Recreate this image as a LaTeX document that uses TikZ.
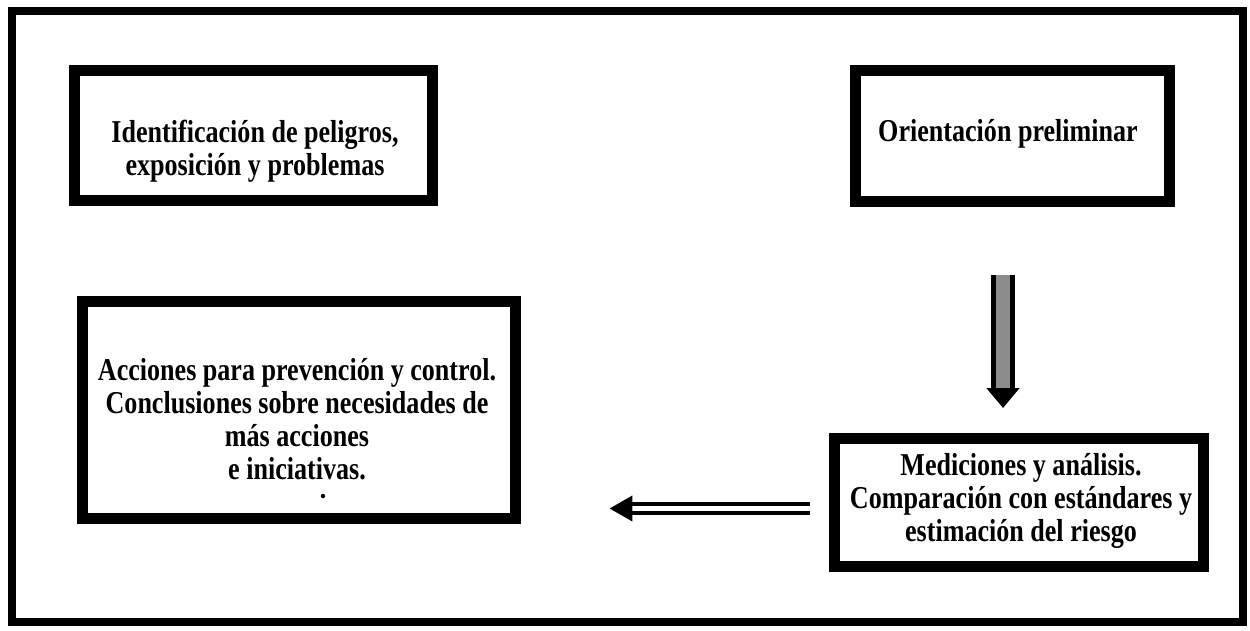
\documentclass[tikz,border=0pt]{standalone}
\usepackage{fontspec}
\setmainfont{Liberation Serif}[FakeStretch=0.82]
\usetikzlibrary{arrows.meta,positioning}

\begin{document}
\begin{tikzpicture}[x=0.02cm,y=-0.02cm]
	  \tikzstyle{caja}=[rectangle,draw=black,line width=0.22cm,fill=white,inner sep=0pt]
	  \tikzstyle{texto}=[align=center,inner sep=0pt,font=\bfseries\fontsize{18.1}{18.7}\selectfont]
	  \tikzstyle{flecha}=[draw=black,double=black!45,line width=0.1cm,double distance=0.28cm,
				  -{Triangle[length=0.4cm,width=0.64cm]}]
	  \tikzstyle{flecha2}=[draw=black,double=white,line width=0.08cm,double distance=0.1cm,
				  -{Triangle[length=0.46cm,width=0.5cm]}]

		\useasboundingbox (0,0) rectangle (1250,630);
		\draw[line width=0.16cm] (12,11) rectangle (1243,622);

		\node[caja,minimum width=7.18cm,minimum height=2.62cm] (ident) at (253.5,135.5) {};
		\node[texto] (identtxt) at (255,151) {Identificación de peligros,\\exposición y problemas};

		\node[caja,minimum width=6.3cm,minimum height=2.64cm] (orient) at (1012.5,136) {};
		\node[texto] (orienttxt) at (1008,134) {Orientación preliminar};

		\node[caja,minimum width=8.68cm,minimum height=4.34cm] (acc) at (299,410) {};
		\node[texto] (acctxt) at (297,419)
			{Acciones para prevención y control.\\Conclusiones sobre necesidades de\\más acciones\\e iniciativas.};
		\fill (323,496) circle (0.045cm);

		\node[caja,minimum width=7.4cm,minimum height=2.56cm] (medic) at (1019,502) {};
		\node[texto] (medictxt) at (1021,501)
			{Mediciones y análisis.\\Comparación con estándares y\\estimación del riesgo};

		\draw[flecha,shorten <=1.35cm,shorten >=0.49cm] ([xshift=-0.19cm]orient.south) -- ([xshift=-0.19cm]orient.south |- medic.north);
		\draw[flecha2,shorten <=0.37cm,shorten >=1.76cm] ([yshift=-0.13cm]medic.west) -- ([yshift=-0.13cm]medic.west -| acc.east);

\end{tikzpicture}
\end{document}
